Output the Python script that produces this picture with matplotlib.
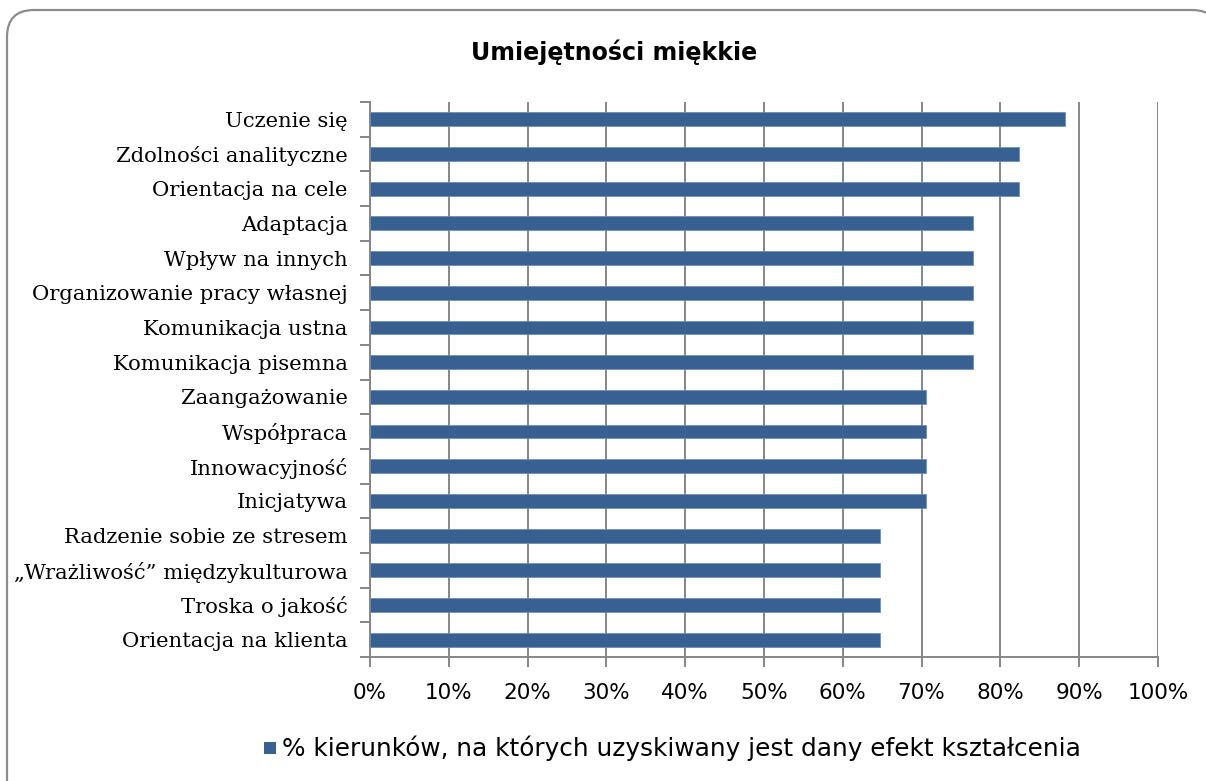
import matplotlib.pyplot as plt
from matplotlib.patches import FancyBboxPatch, Rectangle
from matplotlib.ticker import PercentFormatter, MultipleLocator

# dane: odsetek kierunków (n = 17)
categories = [
    "Uczenie się",
    "Zdolności analityczne",
    "Orientacja na cele",
    "Adaptacja",
    "Wpływ na innych",
    "Organizowanie pracy własnej",
    "Komunikacja ustna",
    "Komunikacja pisemna",
    "Zaangażowanie",
    "Współpraca",
    "Innowacyjność",
    "Inicjatywa",
    "Radzenie sobie ze stresem",
    "\u201eWrażliwość\u201d międzykulturowa",
    "Troska o jakość",
    "Orientacja na klienta",
]
values = [0.882, 0.824, 0.824, 0.765, 0.765, 0.765, 0.765, 0.765,
          0.706, 0.706, 0.706, 0.706, 0.647, 0.647, 0.647, 0.647]
series_name = "% kierunków, na których uzyskiwany jest dany efekt kształcenia"
title = "Umiejętności miękkie"

bar_color = "#386192"
grid_color = "#868686"
sans = ["DejaVu Sans"]
serif = ["DejaVu Serif"]

fig = plt.figure(figsize=(12.06, 7.81), dpi=100)

# zaokrąglona ramka wykresu (w calach), prawy i dolny brzeg poza obrazem
frame = FancyBboxPatch((0.07, -1.0), 12.12, 8.71,
                       boxstyle="round,pad=0,rounding_size=0.27",
                       transform=fig.dpi_scale_trans, facecolor="white",
                       edgecolor="#8c8c8c", linewidth=1.6, zorder=-5)
fig.patches.append(frame)

ax = fig.add_axes([370 / 1206, 1 - 657 / 781, 788 / 1206, 555 / 781])
ax.set_facecolor("none")

y = list(range(len(categories)))
ax.barh(y, values, height=0.4, color=bar_color, edgecolor="#6f8fb8",
        linewidth=0.6, zorder=3)
ax.set_ylim(len(categories) - 0.5, -0.5)
ax.set_xlim(0, 1)

ax.xaxis.set_major_locator(MultipleLocator(0.1))
ax.xaxis.set_major_formatter(PercentFormatter(1.0, decimals=0))
ax.grid(axis="x", color=grid_color, linewidth=1.4, zorder=1)
ax.set_axisbelow(True)

ax.set_yticks(y)
ax.set_yticklabels(categories, fontfamily=serif, fontsize=15.2)
ax.set_yticks([i - 0.5 for i in range(len(categories) + 1)], minor=True)
ax.tick_params(axis="y", which="major", length=0, pad=16)
ax.tick_params(axis="y", which="minor", length=7, width=1.4, color=grid_color)
ax.tick_params(axis="x", length=7, width=1.4, color=grid_color, pad=12)
for lbl in ax.get_xticklabels():
    lbl.set_fontfamily(sans)
    lbl.set_fontsize(15.5)

for side in ["top", "right"]:
    ax.spines[side].set_visible(False)
for side in ["left", "bottom"]:
    ax.spines[side].set_color(grid_color)
    ax.spines[side].set_linewidth(1.4)

fig.text(614 / 1206, 1 - 52 / 781, title, ha="center", va="center",
         fontsize=17.1, fontweight="bold", fontfamily=sans)

# legenda
fig.patches.append(Rectangle((264 / 1206, 1 - 754 / 781), 12 / 1206, 12 / 781,
                             transform=fig.transFigure, facecolor=bar_color,
                             edgecolor="none"))
fig.text(282 / 1206, 1 - 748 / 781, series_name, ha="left", va="center",
         fontsize=17.8, fontfamily=sans)

fig.savefig("out.png", dpi=100)
